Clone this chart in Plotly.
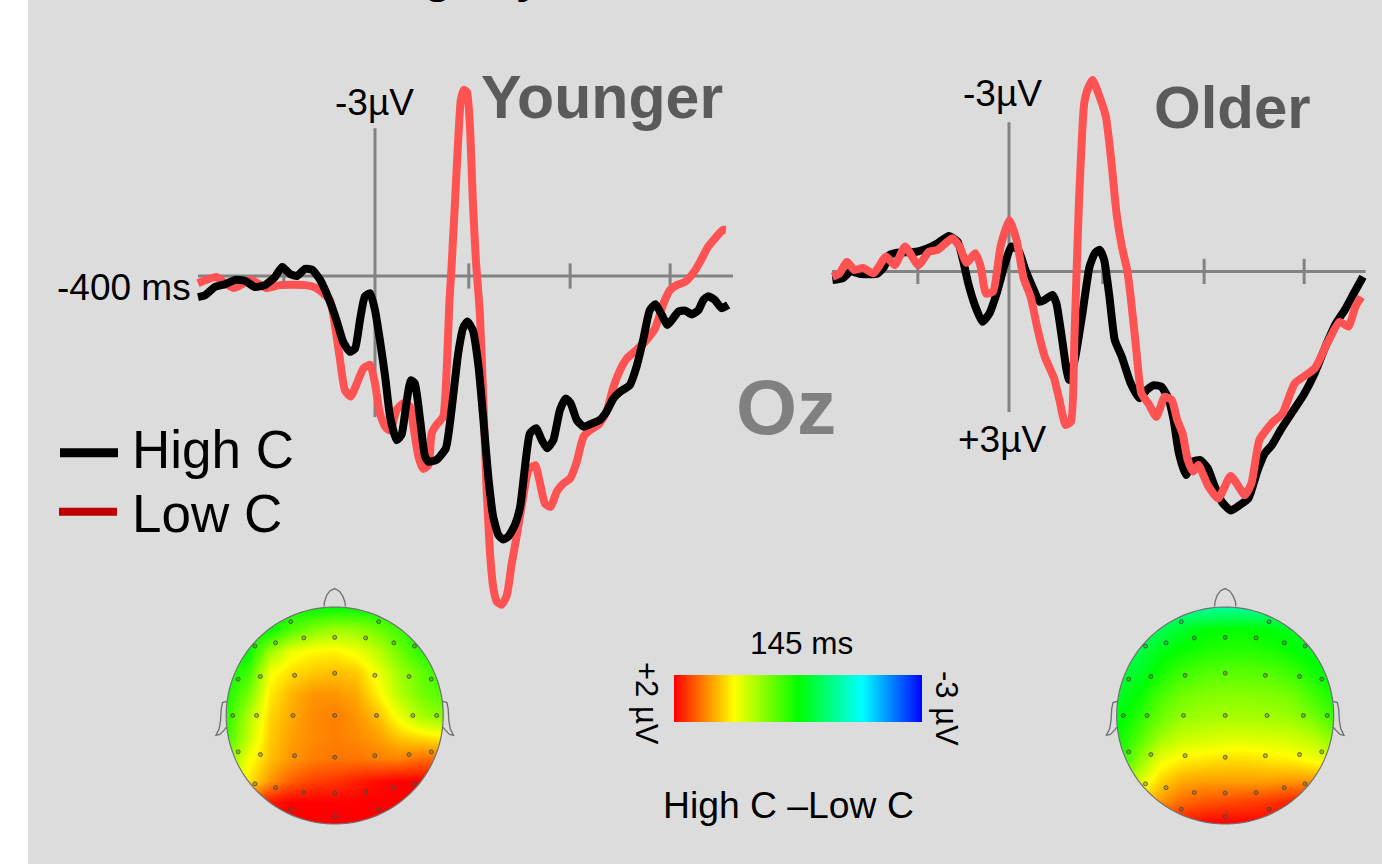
import numpy as np
import plotly.graph_objects as go

W, H = 1382, 864
BG = "#DCDCDC"
AXIS = "#828282"
RED = "#FF5252"
FONT = "Liberation Sans, Arial, sans-serif"

# ERP waveforms: time in ms, amplitude in microvolts (negative up)
young_high_t = [-400,-384,-362,-339,-316,-294,-271,-249,-226,-210,-192,-176,-158,-142,-124,-102,-87,-72,-57,-45,-34,-23,-11,0,11,23,34,49,60,71,81,90,102,113,121,139,160,173,188,200,209,221,234,245,256,267,279,290,301,316,328,339,350,364,377,389,403,418,431,442,456,471,486,508,523,539,554,576,591,606,621,634,648,661,674,686,701,716,731,742,753,768,783,798]
young_high_v = [.44,.40,.23,.17,.08,.10,.23,.19,.02,-.19,-.04,0,-.15,-.13,.08,.53,.92,1.37,1.58,1.51,.92,.43,.36,.71,1.33,2.10,2.93,3.42,3.31,2.65,2.17,2.24,3.0,3.76,3.87,3.83,3.59,2.79,1.61,1.06,.95,1.13,1.89,3.0,4.18,5.01,5.40,5.49,5.43,5.19,4.81,3.97,3.28,3.17,3.42,3.59,3.42,2.79,2.55,2.65,3.0,3.14,3.09,3.0,2.83,2.55,2.41,2.27,1.89,1.33,.71,.59,.81,1.02,.88,.74,.72,.80,.71,.5,.42,.5,.67,.6]
young_low_t = [-400,-359,-339,-319,-280,-246,-215,-158,-133,-102,-90,-79,-68,-55,-41,-26,-11,0,11,23,34,49,64,79,87,98,109,121,128,139,154,162,168,173,181,188,194,201,208,215,221,228,237,245,252,260,267,275,286,298,309,320,335,347,362,373,384,397,411,426,441,456,471,486,505,523,539,554,569,591,610,633,652,667,682,701,719,735,752,770,786,793]
young_low_v = [.15,.02,.15,.25,.08,.25,.19,.19,.25,.50,1.06,1.75,2.38,2.51,2.24,1.92,1.85,2.24,2.86,3.14,3.22,2.79,2.65,2.72,3.14,3.76,4.02,3.94,3.28,3.10,2.93,1.96,.57,-.19,-1.58,-2.83,-3.67,-3.88,-3.83,-3.04,-1.58,-.33,.78,2.65,4.39,5.78,6.47,6.78,6.85,6.65,5.99,5.43,4.60,4.04,3.94,4.32,4.74,4.81,4.49,4.32,4.22,3.87,3.35,3.21,3.10,2.83,2.31,1.96,1.72,1.54,1.37,1.09,.57,.29,.19,.12,-.06,-.30,-.60,-.80,-.96,-.96]
old_high_t = [-399,-375,-358,-338,-298,-282,-270,-253,-209,-185,-161,-136,-116,-104,-92,-76,-60,-44,-28,-11,5,21,37,53,69,81,98,107,118,130,136,150,166,182,194,205,215,227,239,255,275,295,311,328,344,360,372,384,400,416,432,449,465,481,501,521,541,562,578,594,614,638,666,691,715,739,759,779,800]
old_high_v = [.21,.17,.03,.08,.08,-.07,-.31,-.36,-.38,-.45,-.56,-.71,-.59,-.21,.28,.76,1.08,.90,.49,-.07,-.49,-.42,0,.35,.66,.62,.52,.69,1.32,2.08,2.29,1.81,.90,-.07,-.35,-.42,-.21,.56,1.46,1.81,2.36,2.67,2.50,2.40,2.43,2.67,3.12,3.82,4.27,3.99,3.96,4.13,4.51,4.83,5.01,4.90,4.76,4.17,3.82,3.65,3.33,2.99,2.60,2.15,1.60,1.11,.83,.49,.14]
old_low_t = [-399,-383,-366,-350,-330,-306,-278,-258,-235,-205,-181,-161,-128,-112,-96,-76,-64,-52,-36,-19,1,17,33,49,65,81,102,114,128,140,148,158,170,180,189,202,219,231,243,255,267,275,287,299,315,333,352,368,380,392,404,416,428,449,473,501,533,548,566,594,618,646,691,719,747,767,783,796]
old_low_v = [.14,.07,-.17,0,-.04,.07,-.28,-.10,-.49,-.10,-.38,-.42,-.66,-.49,-.15,-.35,-.07,.49,.45,-.49,-1.04,-.63,.17,.56,1.25,1.81,2.26,2.71,3.23,3.16,1.39,-1.39,-3.47,-3.82,-3.96,-3.68,-3.19,-2.29,-1.18,-.49,0,.56,1.60,2.57,2.78,3.06,2.64,2.71,3.12,3.40,3.96,4.20,4.06,4.48,4.76,4.29,4.69,4.44,3.54,3.19,2.99,2.36,2.05,1.53,1.08,1.18,.76,.56]
tick_times = [-206, 212, 441, 667]
# Extent of the drawn axes: time span and amplitude span
young_time_span = [-400, 809]
young_amp_span = [-3.08, 2.94]
old_time_span = [-400, 806]
old_amp_span = [-3.08, 2.96]
young_axis_level = 0.0
old_axis_level = 0.03

# Topographic maps: microvolts on a grid over the head
grid_x = [-1, -.8, -.6, -.4, -.2, 0, .2, .4, .6, .8, 1]
grid_y = [1, .8, .6, .4, .2, 0, -.2, -.4, -.6, -.8, -1]
map_young = [
    [-.5, -.5, -.5, -.5, -.5, -.5, -.5, -.5, -.5, -.5, -.5],
    [-.5, -.5, -.5, -.1, .15, .3, .25, .05, -.2, -.5, -.5],
    [-.5, -.5, .3, .7, .82, .85, .72, .45, .05, -.3, -.5],
    [-.5, -.2, .75, .95, 1.05, 1.1, 1.05, .7, .3, 0, -.3],
    [-.4, .1, .9, 1.15, 1.3, 1.3, 1.2, .85, .4, .1, -.1],
    [-.3, .4, 1.0, 1.2, 1.35, 1.4, 1.3, 1.1, .7, .35, .2],
    [-.2, .5, 1.05, 1.25, 1.35, 1.4, 1.35, 1.25, 1.05, .95, .85],
    [.1, .75, 1.1, 1.3, 1.4, 1.45, 1.45, 1.4, 1.4, 1.5, 1.5],
    [.5, .9, 1.3, 1.55, 1.7, 1.75, 1.85, 1.95, 2, 2, 2],
    [1, 1.6, 1.9, 2, 2, 2, 2, 2, 2, 2, 2],
    [2, 2, 2, 2, 2, 2, 2, 2, 2, 2, 2],
]
map_old = [
    [-1.3, -1.3, -1.3, -1.3, -1.3, -1.3, -1.3, -1.3, -1.3, -1.3, -1.3],
    [-1, -1, -.9, -.7, -.55, -.5, -.5, -.55, -.65, -.8, -.8],
    [-.9, -.85, -.6, -.45, -.35, -.3, -.3, -.35, -.45, -.6, -.7],
    [-.8, -.7, -.4, -.2, -.08, -.05, -.05, -.08, -.2, -.4, -.55],
    [-.7, -.5, -.15, .05, .15, .18, .18, .15, .08, -.15, -.4],
    [-.6, -.3, .05, .25, .32, .35, .35, .32, .28, .1, -.2],
    [-.5, -.1, .3, .5, .55, .6, .6, .58, .55, .45, .15],
    [-.4, .2, .7, .85, .9, .95, .95, .9, .85, .75, .6],
    [-.1, .6, 1.0, 1.2, 1.25, 1.25, 1.25, 1.25, 1.3, 1.3, 1.2],
    [.3, 1, 1.3, 1.5, 1.6, 1.65, 1.7, 1.75, 1.85, 1.9, 1.9],
    [1, 1.6, 1.8, 1.9, 2, 2, 2, 2, 2, 2, 2],
]
electrode_x = [-.405,.405,-.735,-.545,-.285,0,.285,.545,.735,-.89,-.685,-.37,0,.37,.685,.89,-.94,-.72,-.385,0,.385,.72,.94,-.89,-.685,-.37,0,.37,.685,.89,-.735,-.545,-.285,0,.285,.545,.735,-.405,0,.405]
electrode_y = [.865,.865,.64,.67,.715,.72,.715,.67,.64,.335,.36,.37,.39,.37,.36,.335,0,0,0,0,0,0,0,-.335,-.36,-.37,-.385,-.37,-.36,-.335,-.63,-.665,-.71,-.715,-.71,-.665,-.63,-.865,-.93,-.865]
nose_x = [-.098, -.095, -.074, -.043, 0, .043, .074, .095, .098]
nose_y = [1.006, 1.046, 1.107, 1.15, 1.17, 1.146, 1.1, 1.046, 1.006]
ear_x = [-.997, -1.034, -1.046, -1.052, -1.065, -1.095, -1.058, -1.022, -.997]
ear_y = [.131, .119, .061, -.046, -.122, -.183, -.174, -.137, -.107]

# Colour scale
scale_min, scale_max = -3, 2
scale_stops = [[0, "#0000FF"], [.243, "#00FFFF"], [.5, "#00FF00"], [.76, "#FFFF00"], [1, "#FF0000"]]
ramp_values = [2, 1.5, 1, .5, 0, -.5, -1, -1.5, -2, -2.5, -3]


def fx(p):
    return p / W


def fy(p):
    return 1 - p / H


fig = go.Figure()
layout = dict(
    width=W, height=H, margin=dict(l=0, r=0, t=0, b=0), autosize=False,
    paper_bgcolor="white", plot_bgcolor="rgba(0,0,0,0)", showlegend=False,
    hovermode=False,
)


def add_axes(n, x0, x1, y0, y1, xr, yr):
    s = "" if n == 1 else str(n)
    common = dict(showgrid=False, showticklabels=False, ticks="", showline=False, fixedrange=True, zeroline=False)
    layout["xaxis" + s] = dict(domain=[fx(x0), fx(x1)], range=xr, anchor="y" + s, **common)
    layout["yaxis" + s] = dict(domain=[fy(y1), fy(y0)], range=yr, anchor="x" + s, **common)


PX_MS = 0.4425
PX_UV = 48.0
# ERP plot areas are roomier than the drawn axes, so that the waves are not clipped
add_axes(1, 188, 743, 50, 620, [(188 - 375) / PX_MS, (743 - 375) / PX_MS], [(620 - 276) / PX_UV, (50 - 276) / PX_UV])
add_axes(2, 822, 1376, 50, 530, [(822 - 1009) / PX_MS, (1376 - 1009) / PX_MS], [(530 - 270) / PX_UV, (50 - 270) / PX_UV])
HEAD_R = 108.5
PAD = 1.02
HEAD_CX = {"3": 334.7, "4": 1225.2}
HEAD_CY = 715.5
for ax, cx in HEAD_CX.items():
    add_axes(int(ax), cx - HEAD_R * PAD, cx + HEAD_R * PAD, HEAD_CY - HEAD_R * PAD, HEAD_CY + HEAD_R * PAD,
             [-PAD, PAD], [-PAD, PAD])
add_axes(5, 674, 922, 675, 722, [0, 10], [-.5, .5])


def erp(ax, t, v, color, width=8):
    fig.add_trace(go.Scatter(x=t, y=v, mode="lines", xaxis="x" + ax, yaxis="y" + ax,
                             line=dict(color=color, width=width, shape="spline", smoothing=.5)))


def erp_axes(ax, tspan, aspan, level):
    for xs, ys in ((tspan, [level, level]), ([0, 0], aspan)):
        fig.add_trace(go.Scatter(x=xs, y=ys, mode="lines", xaxis="x" + ax, yaxis="y" + ax,
                                 line=dict(color=AXIS, width=3)))
    fig.add_trace(go.Scatter(x=tick_times, y=[level] * len(tick_times), mode="markers", xaxis="x" + ax, yaxis="y" + ax,
                             marker=dict(symbol="line-ns", size=18, line=dict(color=AXIS, width=3))))


erp_axes("", young_time_span, young_amp_span, young_axis_level)
erp("", young_low_t, young_low_v, RED)
erp("", young_high_t, young_high_v, "#000000")
erp_axes("2", old_time_span, old_amp_span, old_axis_level)
erp("2", old_high_t, old_high_v, "#000000")
erp("2", old_low_t, old_low_v, RED)

theta = np.linspace(0, 2 * np.pi, 181)
circle_x, circle_y = np.cos(theta), np.sin(theta)
shapes = [dict(type="rect", xref="paper", yref="paper", x0=fx(28), x1=1, y0=0, y1=1,
               fillcolor=BG, line_width=0, layer="below")]


def head_path(cx, xs, ys, close=False):
    pts = [(fx(cx + a * HEAD_R), fy(HEAD_CY - b * HEAD_R)) for a, b in zip(xs, ys)]
    return "M" + " L".join(f"{a:.6f},{b:.6f}" for a, b in pts) + (" Z" if close else "")


for ax, z in (("3", map_young), ("4", map_old)):
    cx = HEAD_CX[ax]
    fig.add_trace(go.Heatmap(x=grid_x, y=grid_y, z=z, xaxis="x" + ax, yaxis="y" + ax, zsmooth="best",
                             zmin=scale_min, zmax=scale_max, colorscale=scale_stops, showscale=False))
    hole = head_path(cx, circle_x, circle_y, True)
    m = PAD + 3 / HEAD_R
    outer = head_path(cx, [-m, m, m, -m], [-m, -m, m, m], True) + " "
    shapes.append(dict(type="path", xref="paper", yref="paper", path=outer + hole, fillrule="evenodd",
                       fillcolor=BG, line_width=0, layer="above"))
    shapes.append(dict(type="path", xref="paper", yref="paper", path=hole,
                       line=dict(color="#707070", width=1.2), layer="above"))
    for xs in (nose_x, ear_x, [-a for a in ear_x]):
        ys = nose_y if xs is nose_x else ear_y
        shapes.append(dict(type="path", xref="paper", yref="paper", path=head_path(cx, xs, ys),
                           line=dict(color="#6E6E6E", width=1.3), layer="above"))
    fig.add_trace(go.Scatter(x=electrode_x, y=electrode_y, mode="markers", xaxis="x" + ax, yaxis="y" + ax,
                             marker=dict(symbol="circle", size=4, color="rgba(90,90,60,.35)",
                                         line=dict(color="rgba(70,70,70,.8)", width=1))))

fig.add_trace(go.Heatmap(z=[ramp_values], xaxis="x5", yaxis="y5", zsmooth="best",
                         zmin=scale_min, zmax=scale_max, colorscale=scale_stops, showscale=False))

# Legend keys
shapes.append(dict(type="line", xref="paper", yref="paper", x0=fx(60), x1=fx(118), y0=fy(452.7), y1=fy(452.7),
                   line=dict(color="#000000", width=9)))
shapes.append(dict(type="line", xref="paper", yref="paper", x0=fx(59), x1=fx(117), y0=fy(511.7), y1=fy(511.7),
                   line=dict(color="#BE0000", width=8)))

texts = [
    ("-3µV", 374, 102.5, 37, "#000000", False, "center", 0),
    ("-3µV", 1002, 93.5, 37, "#000000", False, "center", 0),
    ("+3µV", 1002, 439, 37, "#000000", False, "center", 0),
    ("-400 ms", 124, 287.5, 37, "#000000", False, "center", 0),
    ("Younger", 602, 97, 60.8, "#5A5A5A", True, "center", 0),
    ("Older", 1232, 107.5, 60, "#5A5A5A", True, "center", 0),
    ("Oz", 786, 407, 78.5, "#808080", True, "center", 0),
    ("High C", 131, 449, 53, "#000000", False, "left", 0),
    ("Low C", 131, 513, 53, "#000000", False, "left", 0),
    ("145 ms", 801, 643, 31.5, "#000000", False, "center", 0),
    ("High C –Low C", 788, 805, 37.3, "#000000", False, "center", 0),
    ("+2 µV", 647, 703, 31, "#000000", False, "center", 90),
    ("-3 µV", 947, 708, 31, "#000000", False, "center", 90),
    ("g", 438, -22, 45, "#000000", True, "center", 0),
    ("y", 528, -22, 45, "#000000", True, "center", 0),
]
annotations = [
    dict(text=(f"<b>{t}</b>" if b else t), x=fx(x), y=fy(y), xref="paper", yref="paper", showarrow=False,
         xanchor=a, yanchor="middle", textangle=ang, borderpad=0,
         font=dict(family=FONT, size=s, color=c))
    for t, x, y, s, c, b, a, ang in texts
]
layout["shapes"] = shapes
layout["annotations"] = annotations
fig.update_layout(**layout)

fig.write_html("out.html", config={"displayModeBar": False, "responsive": False},
               post_script="document.documentElement.style.margin='0';document.body.style.margin='0';document.body.style.overflow='hidden';")
